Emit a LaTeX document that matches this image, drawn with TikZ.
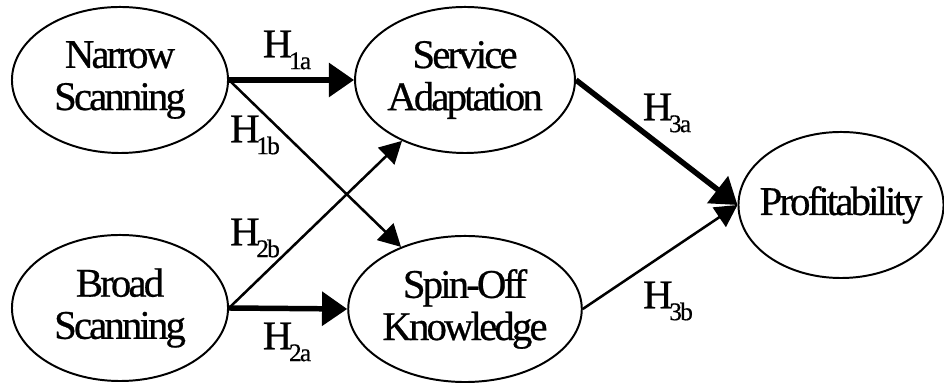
\documentclass[tikz,border=0pt]{standalone}
\usepackage{fontspec}
\setmainfont{Liberation Serif}[LetterSpace=-7, FakeBold=0.6]
\usepackage{tikz}
\usetikzlibrary{shapes,arrows.meta,positioning,calc}

\newcommand{\hyp}[1]{H\kern-0.08em\raisebox{-0.29em}{\fontsize{18}{18}\selectfont #1}}

\begin{document}
\begin{tikzpicture}[x=0.025cm, y=0.025cm, every node/.style={font=\fontsize{29}{30}\selectfont},
	var/.style={ellipse, draw, line width=1.4pt, minimum width=5.4cm, minimum height=3.65cm, inner sep=0pt, align=center},
	weak/.style={line width=1.8pt, -{Triangle[length=0.55cm, width=0.58cm]}},
	strong/.style={line width=3.9pt, -{Triangle[length=0.63cm, width=0.83cm]}}]
	\useasboundingbox (0,0) rectangle (944,385);
	\node[var] (narrow) at (120,305) {Narrow\\Scanning};
	\node[var] (broad) at (120,77) {Broad\\Scanning};
	\node[var] (service) at (465,305) {Service\\Adaptation};
	\node[var] (spin) at (465,76) {Spin-Off\\Knowledge};
	\node[var, minimum width=5.125cm, inner xsep=-0.25cm] (profit) at (841,180) {Profitability};

	\draw[strong] (narrow.east) -- (service.west);
	\draw[weak] (narrow.east) -- (spin);
	\draw[weak] (broad.east) -- (service);
	\draw[strong] (broad.east) -- (spin.west);
	\draw[strong] (service.east) -- (profit.west);
	\draw[weak] (spin.east) -- (profit.west);

	\node (h1a) at (287,335) {\hyp{1a}};
	\node (h1b) at (255,250) {\hyp{1b}};
	\node (h2b) at (255,147) {\hyp{2b}};
	\node (h2a) at (287,43) {\hyp{2a}};
	\node (h3a) at (667,272) {\hyp{3a}};
	\node (h3b) at (668,84) {\hyp{3b}};
\end{tikzpicture}
\end{document}
